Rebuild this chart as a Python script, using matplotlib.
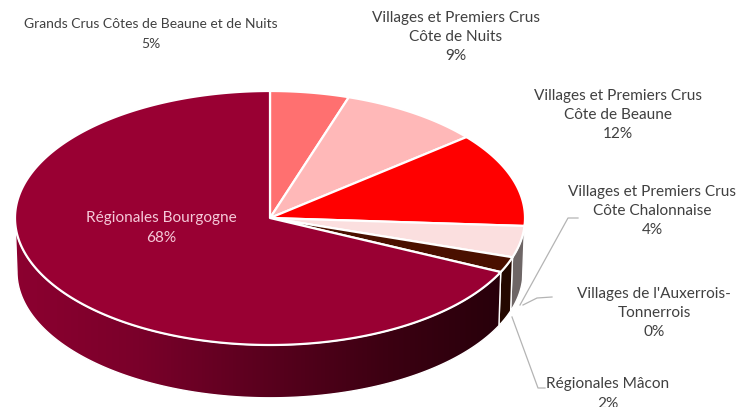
import numpy as np
import matplotlib
matplotlib.use("Agg")
import matplotlib.pyplot as plt
from matplotlib.patches import Polygon
from matplotlib.colors import LinearSegmentedColormap

plt.rcParams['font.family'] = ['Lato', 'DejaVu Sans']

categories = ["Grands Crus Côtes de Beaune et de Nuits",
              "Villages et Premiers Crus\nCôte de Nuits",
              "Villages et Premiers Crus\nCôte de Beaune",
              "Villages et Premiers Crus\nCôte Chalonnaise",
              "Villages de l'Auxerrois-\nTonnerrois",
              "Régionales Mâcon",
              "Régionales Bourgogne"]
values = [5, 9, 12, 4, 0, 2, 68]
top_colors = ["#FF7070", "#FFB8B8", "#FF0000", "#FBDFDF", "#C8A0A0", "#4A1000", "#990033"]
wall_colors = ["#803838", "#805C5C", "#7A0000", "#6E6666", "#604040", "#240800", None]

CX, CY, RX, RY, DEPTH = 270, 218, 255, 127, 54

fig = plt.figure(figsize=(7.4, 4.07), dpi=100)
ax = fig.add_axes([0, 0, 1, 1])


def arc(a1, a2, dy=0.0, grow=0.0):
    t = np.radians(np.linspace(a1, a2, max(int(abs(a2 - a1)) * 3, 2)))
    return np.column_stack([CX + (RX + grow) * np.sin(t), CY + dy - (RY + grow * 0.6) * np.cos(t)])


edges = np.concatenate([[0], np.cumsum(values)]) * 3.6

# side wall, visible for angles 90..270
for i, v in enumerate(values):
    a1, a2 = max(edges[i], 90), min(edges[i + 1], 270)
    if a2 <= a1:
        continue
    pts = np.vstack([arc(a1, a2), arc(a1, a2, DEPTH, -2)[::-1]])
    if wall_colors[i] is not None:
        ax.add_patch(Polygon(pts, closed=True, fc=wall_colors[i], ec="white", lw=1.0, zorder=2))
    else:
        cmap = LinearSegmentedColormap.from_list("wall", ["#8C0030", "#7A002A", "#5A001E", "#3C0012", "#26000A"])
        im = ax.imshow(np.linspace(0, 1, 256)[None, :], extent=(15, 512, 410, 210), cmap=cmap,
                       aspect="auto", zorder=2)
        clip = Polygon(pts, closed=True, transform=ax.transData, fc="none", ec="none")
        ax.add_patch(clip)
        im.set_clip_path(clip)
        ax.add_patch(Polygon(pts, closed=True, fc="none", ec="white", lw=1.0, zorder=2.5))

# top face
for i, v in enumerate(values):
    if v == 0:
        continue
    pts = np.vstack([[CX, CY], arc(edges[i], edges[i + 1])])
    ax.add_patch(Polygon(pts, closed=True, fc=top_colors[i], ec="white", lw=1.6, zorder=3,
                         joinstyle="round"))

# leader lines
leaders = [([578, 568, 520], [218, 218, 305]),
           ([552, 537, 523], [297, 298, 305]),
           ([545, 538, 512], [388, 388, 317])]
for xs, ys in leaders:
    ax.plot(xs, ys, color="#B4B4B4", lw=0.9, zorder=4)

# labels
label_pos = [(151, 34), (456, 37), (618, 115), (652, 211), (654, 313), (608, 394), (161, 228)]
label_size = [10.0, 11.1, 11.1, 11.1, 11.1, 11.1, 11.1]
label_spacing = [1.7, 1.48, 1.48, 1.48, 1.48, 1.48, 1.48]
for i, (name, v) in enumerate(zip(categories, values)):
    color = "#F5C8D8" if i == 6 else "#404040"
    ax.text(*label_pos[i], f"{name}\n{v}%", ha="center", va="center", fontsize=label_size[i],
            color=color, linespacing=label_spacing[i], zorder=5, clip_on=True)

ax.set_xlim(0, 740)
ax.set_ylim(407, 0)
ax.axis("off")
fig.savefig("out.png", dpi=100)
